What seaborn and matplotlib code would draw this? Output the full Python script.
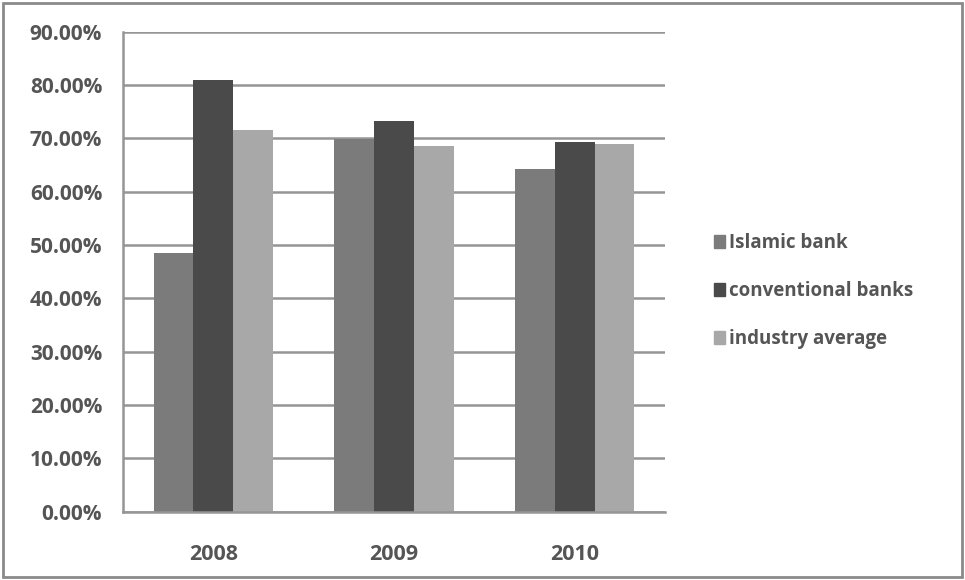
import pandas as pd
import matplotlib.pyplot as plt
import matplotlib.patches as mpatches
import seaborn as sns

years = ['2008', '2009', '2010']
series = ['Islamic bank', 'conventional banks', 'industry average']
islamic = [48.6, 69.9, 64.2]
conventional = [81.0, 73.3, 69.3]
industry = [71.5, 68.6, 68.9]
colors = ['#7b7b7b', '#4a4a4a', '#a8a8a8']

df = pd.DataFrame({
    'year': years * 3,
    'series': [s for s in series for _ in years],
    'value': islamic + conventional + industry,
})

sns.set_style('white')
plt.rcParams['font.family'] = ['Open Sans', 'DejaVu Sans']
plt.rcParams['font.weight'] = 'bold'

fig = plt.figure(figsize=(9.65, 5.8), dpi=100)
ax = fig.add_axes([123 / 965, 1 - 511.7 / 580, 542 / 965, 480 / 580])

sns.barplot(data=df, x='year', y='value', hue='series', hue_order=series,
            palette=colors, width=0.66, saturation=1, ax=ax, legend=False,
            edgecolor='none', linewidth=0)

ax.set_ylim(0, 90)
ax.set_xlim(-0.5, 2.5)
ax.set_yticks(range(0, 91, 10))
ax.set_yticklabels([f'{v:.2f}%' for v in range(0, 91, 10)])
ax.yaxis.grid(True, color='#959595', linewidth=1.8)
ax.set_axisbelow(True)
ax.set_xlabel('')
ax.set_ylabel('')

for side in ['top', 'right']:
    ax.spines[side].set_visible(False)
for side in ['left', 'bottom']:
    ax.spines[side].set_color('#959595')
    ax.spines[side].set_linewidth(1.8)

ax.tick_params(axis='y', length=6, width=1.5, color='#959595', pad=9,
               labelsize=15, labelcolor='#555555')
ax.tick_params(axis='x', length=0, pad=23, labelsize=15.5, labelcolor='#555555')
for lab in ax.get_xticklabels() + ax.get_yticklabels():
    lab.set_fontweight('bold')

# small tick marks between the year groups
ax.set_xticks([-0.5, 0.5, 1.5, 2.5], minor=True)
ax.tick_params(axis='x', which='minor', length=5, width=1.5, color='#959595')

handles = [mpatches.Patch(color=c, label=s) for c, s in zip(colors, series)]
leg = fig.legend(handles=handles, loc='center left', bbox_to_anchor=(697 / 965, 1 - 291 / 580),
                 frameon=False, fontsize=13.5, handlelength=0.6, handleheight=0.7,
                 handletextpad=0.2, labelspacing=1.5)
for t in leg.get_texts():
    t.set_color('#555555')
    t.set_fontweight('bold')

fig.patches.append(mpatches.Rectangle((3 / 965, 3 / 580), 959 / 965, 574 / 580,
                                      transform=fig.transFigure, fill=False,
                                      edgecolor='#8a8a8a', linewidth=2))

fig.savefig('out.png', dpi=100, facecolor='white')
